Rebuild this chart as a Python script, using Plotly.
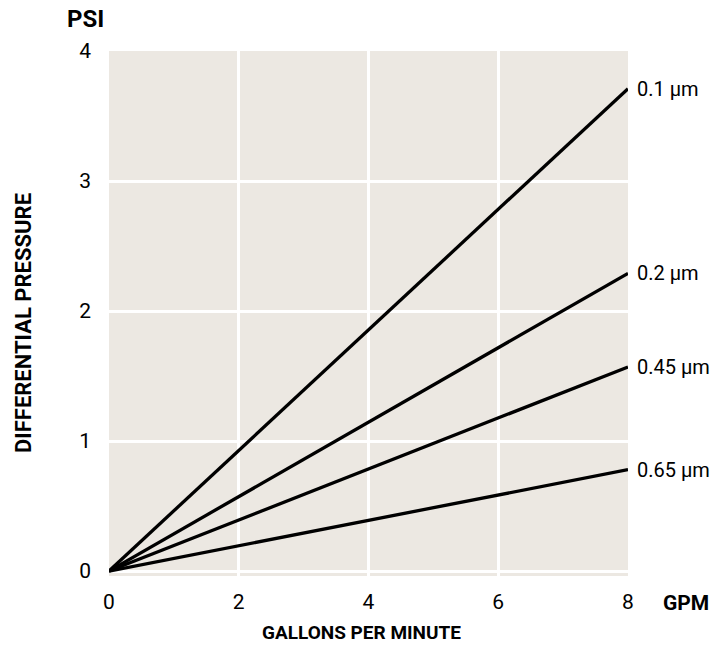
import plotly.graph_objects as go

# data
gpm = [0, 8]
series_names = ["0.1 µm", "0.2 µm", "0.45 µm", "0.65 µm"]
series_values = [
    [0, 3.71],
    [0, 2.29],
    [0, 1.57],
    [0, 0.78],
]
x_ticks = [0, 2, 4, 6, 8]
y_ticks = [0, 1, 2, 3, 4]

FONT = "Roboto, Liberation Sans, sans-serif"

fig = go.Figure()
for name, vals in zip(series_names, series_values):
    fig.add_trace(go.Scatter(x=gpm, y=vals, mode="lines", name=name,
                             line=dict(color="black", width=3.3),
                             showlegend=False, hoverinfo="skip"))
    fig.add_annotation(x=gpm[-1], y=vals[-1], xref="x", yref="y", text=name,
                       showarrow=False, xanchor="left", yanchor="middle", xshift=7,
                       font=dict(family=FONT, size=20, color="black"))

fig.update_layout(
    width=712, height=646,
    margin=dict(l=109, r=84, t=51, b=70),
    paper_bgcolor="white",
    plot_bgcolor="#ECE8E2",
    font=dict(family=FONT, size=20, color="black"),
    xaxis=dict(range=[0, 8], tickvals=x_ticks, showgrid=True, gridcolor="white",
               gridwidth=3, zeroline=False, showline=False, ticks="",
               ticklabelstandoff=11, tickfont=dict(family=FONT, size=21)),
    yaxis=dict(range=[-0.038, 4], tickvals=y_ticks, showgrid=True, gridcolor="white",
               gridwidth=3, zeroline=False, showline=False, ticks="",
               ticklabelstandoff=17, tickfont=dict(family=FONT, size=21)),
)

fig.add_annotation(text="<b>PSI</b>", xref="paper", yref="paper", x=-0.046, y=1.061,
                   showarrow=False, xanchor="center", yanchor="middle",
                   font=dict(family=FONT, size=24))
fig.add_annotation(text="<b>GPM</b>", xref="paper", yref="paper", x=(686 - 109) / 519,
                   y=-0.051, showarrow=False, xanchor="center", yanchor="middle",
                   font=dict(family=FONT, size=21))
fig.add_annotation(text="<b>GALLONS PER MINUTE</b>", xref="paper", yref="paper",
                   x=(361 - 109) / 519, y=(576 - 632) / 525,
                   showarrow=False, xanchor="center", yanchor="middle",
                   font=dict(family=FONT, size=19))
fig.add_annotation(text="<b>DIFFERENTIAL PRESSURE</b>", xref="paper", yref="paper",
                   x=(23 - 109) / 519, y=(576 - 323) / 525, textangle=-90,
                   showarrow=False, xanchor="center", yanchor="middle",
                   font=dict(family=FONT, size=22))

fig.write_html("out.html",
               config={"displayModeBar": False},
               post_script="document.body.style.margin='0px';"
                           "document.body.style.overflow='hidden';")
